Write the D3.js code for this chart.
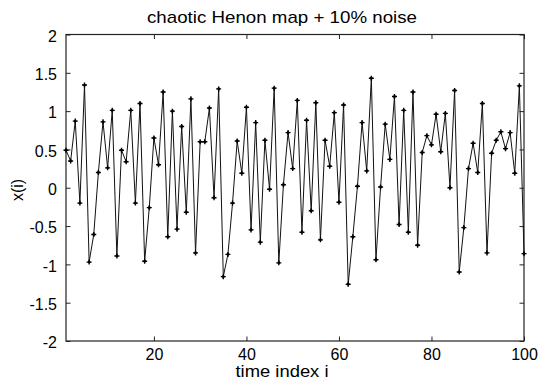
<!DOCTYPE html>
<html><head><meta charset="utf-8">
<script src="https://cdn.jsdelivr.net/npm/d3@7"></script>
<style>body{margin:0;background:#fff}svg{display:block}text{font-family:"Liberation Sans",Arial,sans-serif;fill:#000}</style>
</head><body>
<svg id="c" width="544" height="381"></svg>
<script>
const title = "chaotic Henon map + 10% noise";
const xLabel = "time index i";
const yLabel = "x(i)";
const xTicks = [20, 40, 60, 80, 100];
const yTicks = [-2, -1.5, -1, -0.5, 0, 0.5, 1, 1.5, 2];
const values = [
 0.49, 0.35, 0.87, -0.20, 1.34, -0.97, -0.61, 0.20, 0.86, 0.26,
 1.01, -0.89, 0.49, 0.34, 1.01, -0.20, 1.10, -0.96, -0.26, 0.65,
 0.30, 1.25, -0.64, 1.00, -0.54, 0.80, -0.32, 1.16, -0.85, 0.60,
 0.60, 1.04, -0.13, 1.29, -1.16, -0.87, -0.20, 0.61, 0.19, 1.05,
 -0.55, 0.85, -0.71, 0.62, -0.02, 1.30, -0.98, 0.04, 0.72, 0.25,
 1.14, -0.58, 0.88, -0.30, 1.11, -0.68, 0.62, 0.28, 0.98, -0.19,
 1.08, -1.26, -0.64, 0.02, 0.85, 0.22, 1.43, -0.94, 0.01, 0.83,
 0.37, 1.19, -0.48, 1.01, -0.58, 1.25, -0.75, 0.46, 0.68, 0.56,
 0.96, 0.47, 0.97, 0.00, 1.27, -1.10, -0.52, 0.25, 0.58, 0.20,
 1.10, -0.85, 0.45, 0.62, 0.73, 0.51, 0.72, 0.19, 1.33, -0.86
];
const index = values.map((v, i) => i + 1);

const L = 66, R = 524, T = 34.5, B = 341;
const svg = d3.select("#c");
const x = d3.scaleLinear().domain([1, 100]).range([L, R]);
const y = d3.scaleLinear().domain([-2, 2]).range([B, T]);

const axCol = "#222";
const tl = 4.5;
const gb = svg.append("g").attr("transform", `translate(0,${B})`)
  .call(d3.axisBottom(x).tickValues(xTicks).tickSizeInner(-tl).tickSizeOuter(0).tickPadding(8));
const gt = svg.append("g").attr("transform", `translate(0,${T})`)
  .call(d3.axisTop(x).tickValues(xTicks).tickSizeInner(-tl).tickSizeOuter(0).tickFormat(""));
const gl = svg.append("g").attr("transform", `translate(${L},0)`)
  .call(d3.axisLeft(y).tickValues(yTicks).tickSizeInner(-tl).tickSizeOuter(0).tickPadding(9).tickFormat(d => String(d)));
const gr = svg.append("g").attr("transform", `translate(${R},0)`)
  .call(d3.axisRight(y).tickValues(yTicks).tickSizeInner(-tl).tickSizeOuter(0).tickFormat(""));
[gb, gt, gl, gr].forEach(g => {
  g.select(".domain").remove();
  g.selectAll("line").attr("stroke", axCol).attr("stroke-width", 1);
  g.selectAll("text").attr("font-size", 16).attr("font-family", '"Liberation Sans",Arial,sans-serif').attr("fill", "#000");
});
gb.selectAll("text").attr("dy", null).attr("y", 19);
gl.selectAll("text").attr("dy", "0.42em");
svg.append("rect").attr("x", L).attr("y", T).attr("width", R - L).attr("height", B - T)
  .attr("fill", "none").attr("stroke", axCol).attr("stroke-width", 1.2);

const line = d3.line().x((d, i) => x(index[i])).y(d => y(d));
svg.append("path").datum(values).attr("d", line)
  .attr("fill", "none").attr("stroke", "#111").attr("stroke-width", 1);

const mk = svg.append("g");
mk.selectAll("path").data(values).join("path")
  .attr("transform", (d, i) => `translate(${x(index[i])},${y(d)})`)
  .attr("d", "M-2.5,0H2.5M0,-2.5V2.5")
  .attr("stroke", "#000").attr("stroke-width", 1.4);
mk.selectAll("circle").data(values).join("circle")
  .attr("cx", (d, i) => x(index[i])).attr("cy", d => y(d)).attr("r", 1.4).attr("fill", "#000");

svg.append("text").attr("x", 282).attr("y", 23).attr("text-anchor", "middle")
  .attr("font-size", 17).attr("textLength", 270).attr("lengthAdjust", "spacingAndGlyphs").text(title);
svg.append("text").attr("x", 282).attr("y", 377).attr("text-anchor", "middle")
  .attr("font-size", 17).attr("textLength", 93).attr("lengthAdjust", "spacingAndGlyphs").text(xLabel);
svg.append("text").attr("transform", "translate(23,190) rotate(-90)").attr("text-anchor", "middle")
  .attr("font-size", 16).text(yLabel);
</script>
</body></html>
